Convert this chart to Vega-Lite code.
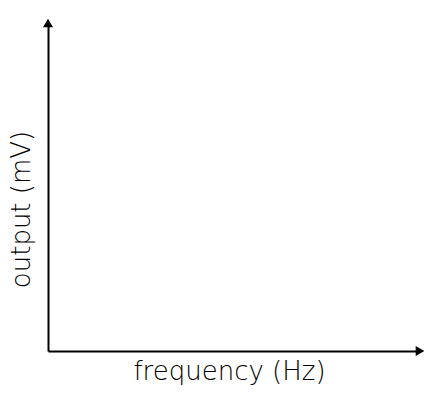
{
  "$schema": "https://vega.github.io/schema/vega-lite/v6.json",
  "width": 372,
  "height": 328,
  "autosize": "none",
  "padding": {"left": 48, "top": 23, "right": 22, "bottom": 52},
  "background": "white",
  "config": {
    "view": {"stroke": null},
    "axis": {
      "labels": false,
      "ticks": false,
      "grid": false,
      "domainColor": "black",
      "domainWidth": 2,
      "titleFont": "DejaVu Sans",
      "titleFontWeight": 200,
      "titleFontSize": 26,
      "titleColor": "black"
    }
  },
  "data": {
    "values": [
      {"x": 0, "y": 1, "shape": "triangle-up"},
      {"x": 1, "y": 0, "shape": "triangle-right"}
    ]
  },
  "mark": {"type": "point", "filled": true, "color": "black", "opacity": 1, "size": 100},
  "encoding": {
    "x": {
      "field": "x",
      "type": "quantitative",
      "scale": {"domain": [0, 1], "nice": false, "zero": false},
      "axis": {"title": "frequency (Hz)", "titlePadding": 7, "titleX": 181}
    },
    "y": {
      "field": "y",
      "type": "quantitative",
      "scale": {"domain": [0, 1], "nice": false, "zero": false},
      "axis": {"title": "output (mV)", "titlePadding": 14, "titleY": 186}
    },
    "shape": {"field": "shape", "type": "nominal", "scale": null}
  }
}
